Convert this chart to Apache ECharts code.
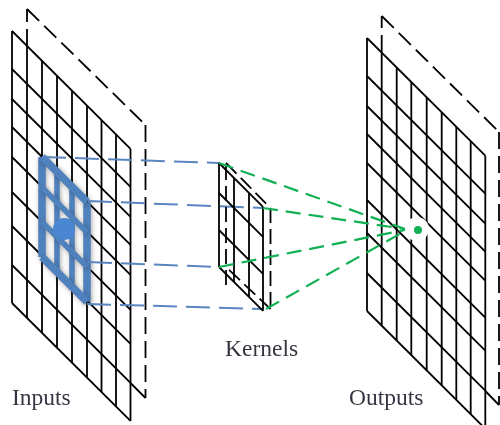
<!DOCTYPE html>
<html><head><meta charset="utf-8">
<style>html,body{margin:0;padding:0;background:#fff}#c{width:500px;height:425px;filter:blur(0.35px)}</style>
<script src="https://cdn.jsdelivr.net/npm/echarts@6/dist/echarts.min.js"></script>
</head><body><div id="c"></div>
<script>
// Panel geometry (image pixels used as axis units)
const inputCols = [12,27,42,57,72,87,101.5,116,130.5];
const inputRows = [31,69,99,127,157,192,226,265,303];
const outputCols = [367,381.7,396.7,411.3,426.7,441.7,456.3,470.7,485.3];
const outputRows = [38,76,106,134,163,200,233,273,311];
const kernelCols = [219,234,249,263];
const kernelRows = [163,193,230,267];
const blueCols = [42,57,72,87];
const blueRows = [157,187.5,222,257];
const skew = 0.995;
const inputBackDashed = [[27,46],[27,9],[145.5,125],[145.5,398]];
const inputBackSolid = [[130.5,383],[145.5,398]];
const outputBackDashed = [[381.7,52],[381.7,16],[499,132],[499,405]];
const outputBackSolid = [[485.3,391],[499,405]];
const kernelBack = [[226,285],[226,163],[270.5,208],[270.5,309],[226,267]];
const blueLinks = [[[42,157],[219,163]],[[88,201],[263,208]],[[88,262],[219,267]],[[87,304],[263,309]]];
const greenLinks = [[[219,163],[405,229]],[[263,208],[405,229]],[[219,267],[405,230]],[[266,309],[405,231]]];
const blueDot = [64,229];
const greenDot = [418,230];
const haloDot = [417,229];
const labels = [['Inputs',12,398.5],['Kernels',225,350],['Outputs',349,398.5]];

function seg(points,color,width,type,extra){
  return Object.assign({type:'line',data:points,showSymbol:false,symbol:'none',silent:true,animation:false,
    lineStyle:Object.assign({color:color,width:width,type:type||'solid',cap:'butt'},extra||{})},{z:2});
}
function gridSeries(cols,rows,color,width,extra){
  const out=[], x0=cols[0], x1=cols[cols.length-1], top=rows[0], bot=rows[rows.length-1];
  cols.forEach((x,i)=>{
    const w=Array.isArray(width)?width[(i===0||i===cols.length-1)?0:1]:width;
    out.push(seg([[x,top+(x-x0)*skew],[x,bot+(x-x0)*skew]],color,w,'solid',extra));
  });
  rows.forEach((y,i)=>{
    const w=Array.isArray(width)?width[(i===0||i===rows.length-1)?0:1]:width;
    out.push(seg([[x0,y],[x1,y+(x1-x0)*skew]],color,w,'solid',extra));
  });
  return out;
}
function dashedPath(pts,color,width,dash){
  const out=[];
  for(let i=0;i<pts.length-1;i++) out.push(seg([pts[i],pts[i+1]],color,width,dash));
  return out;
}
const black='#000000', blue='#4f81bd', linkBlue='#5a86c0', green='#12b054';
const series=[];
series.push(...dashedPath(inputBackDashed,black,1.8,[17,7]));
series.push(...dashedPath(outputBackDashed,black,1.8,[17,7]));
series.push(seg(inputBackSolid,black,1.8));
series.push(seg(outputBackSolid,black,1.8));
series.push(...gridSeries(inputCols,inputRows,black,1.8));
series.push(...gridSeries(outputCols,outputRows,black,1.8));
series.push(...gridSeries(blueCols,blueRows,blue,[7.5,5.5],{shadowColor:'rgba(40,40,40,0.4)',shadowBlur:5,shadowOffsetX:1,shadowOffsetY:1}));
series.push({type:'scatter',data:[blueDot],symbolSize:22,silent:true,animation:false,itemStyle:{color:'#4b86d2',opacity:1},z:3});
blueLinks.forEach(l=>series.push(seg(l,linkBlue,2,[24,9])));
series.push(...dashedPath(kernelBack,black,1.8,[15,6]));
series.push(...gridSeries(kernelCols,kernelRows,black,1.8));
series.push({type:'scatter',data:[haloDot],symbolSize:24,silent:true,animation:false,itemStyle:{color:'#fff',opacity:1},z:3});
greenLinks.forEach(l=>series.push(Object.assign(seg(l,green,2.2,[15,8]),{z:4})));
series.push({type:'scatter',data:[greenDot],symbolSize:8,silent:true,animation:false,itemStyle:{color:green,opacity:1},z:5});
series.push({type:'scatter',data:labels.map(l=>({value:[l[1],l[2]],name:l[0]})),symbolSize:0,silent:true,animation:false,z:6,
  label:{show:true,position:'right',distance:0,formatter:p=>p.name,fontFamily:'Liberation Serif',fontSize:23.5,color:'#000011'}});

const chart=echarts.init(document.getElementById('c'),null,{renderer:'canvas'});
chart.setOption({
  backgroundColor:'#fff',animation:false,
  grid:{left:0,right:0,top:0,bottom:0},
  xAxis:{type:'value',min:0,max:500,show:false},
  yAxis:{type:'value',min:0,max:425,inverse:true,show:false},
  tooltip:{show:false},
  series:series
});
</script></body></html>
